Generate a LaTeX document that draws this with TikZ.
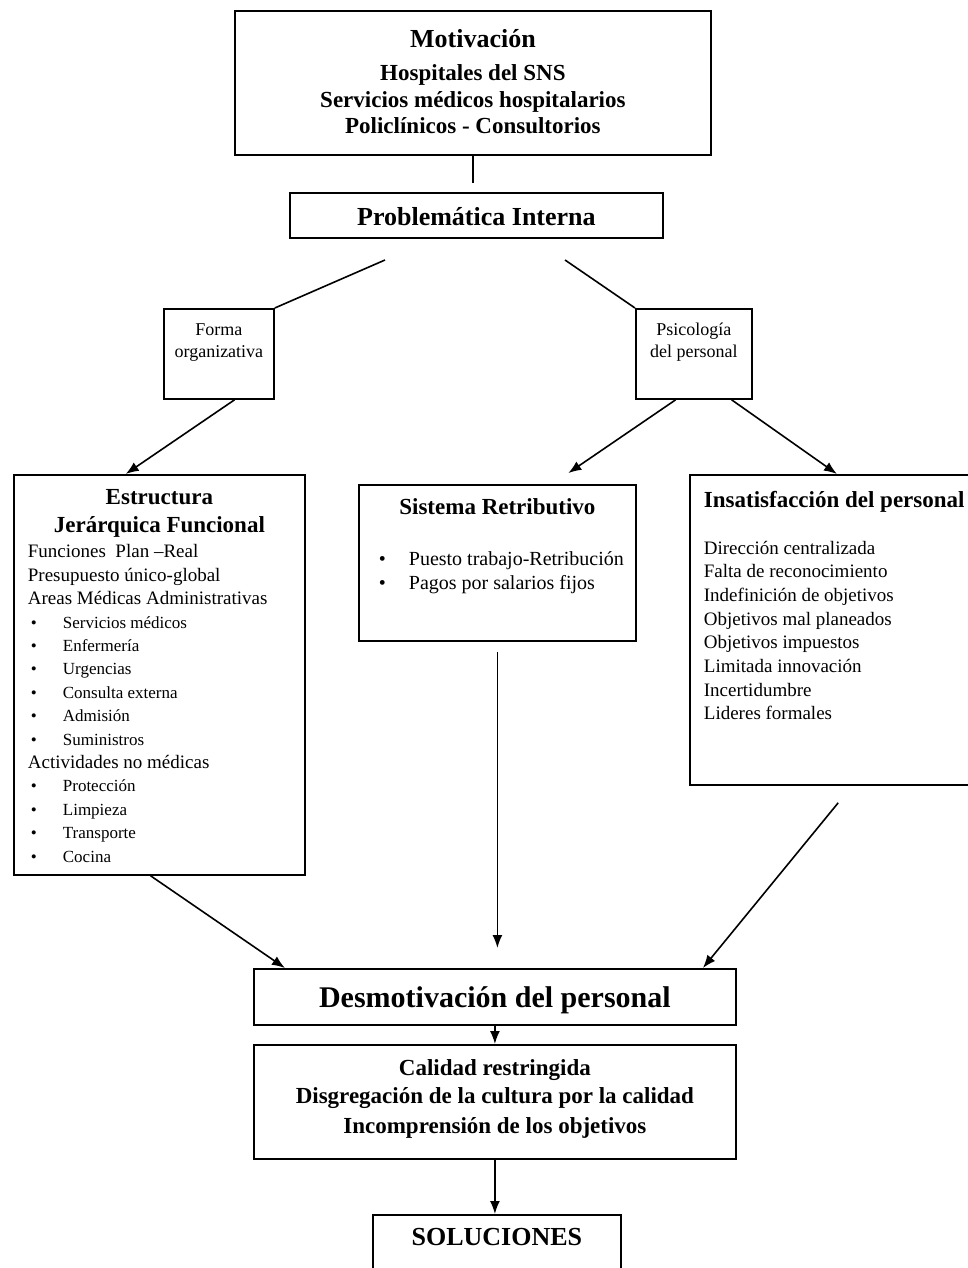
\documentclass[tikz,border=0pt]{standalone}
\usepackage{fontspec}
\setmainfont{Liberation Serif}
\usetikzlibrary{arrows.meta,calc}
\newcommand{\caja}[3]{\parbox[c][#2][t]{#1}{#3}}
\newcommand{\punto}[1]{\makebox[17.5pt][l]{\hspace{1.5pt}•}#1}
\tikzset{
  caja/.style={draw, line width=0.9pt, inner sep=0pt, anchor=north west},
  linea/.style={line width=0.8pt},
  flecha/.style={linea, -{Latex[length=6.5pt,width=5pt]}}
}
\begin{document}
\begin{tikzpicture}[x=0.5pt, y=-0.5pt]
    \useasboundingbox (0,0) rectangle (968,1268);
    % cajas
    \node[caja] (motiv) at (234,10) {\caja{238pt}{72pt}{\centering\bfseries\fontsize{11.5}{13}\selectfont
      \rule{0pt}{18.5pt}{\fontsize{13}{15}\selectfont Motivación}\\[3.5pt]
      Hospitales del SNS\\[0.5pt]
      Servicios médicos hospitalarios\\
      Policlínicos - Consultorios}};
    \node[caja] (prob) at (289,192) {\caja{186.5pt}{22.5pt}{\centering\bfseries\fontsize{13}{15}\selectfont
      \rule{0pt}{16.5pt}Problemática Interna}};
    \node[caja] (forma) at (163,308) {\caja{55pt}{45pt}{\centering\fontsize{9}{11}\selectfont
      \rule{0pt}{13.5pt}Forma\\organizativa}};
    \node[caja] (psico) at (635,308) {\caja{58pt}{45pt}{\centering\fontsize{9}{11}\selectfont
      \rule{0pt}{13.5pt}Psicología\\del personal}};
    \node[caja] (estr) at (13,474) {\caja{145.5pt}{200pt}{%
      {\centering\bfseries\fontsize{11.5}{14}\selectfont
      \rule{0pt}{15pt}Estructura\\Jerárquica Funcional\par}
      \vspace{0.8pt}
      {\raggedright\leftskip=7pt\fontsize{9.5}{11.7}\selectfont
      Funciones\ \ Plan –Real\\
      Presupuesto único-global\\
      Areas Médicas Administrativas\\
      \fontsize{8.5}{11.7}\selectfont
      \punto{Servicios médicos}\\
      \punto{Enfermería}\\
      \punto{Urgencias}\\
      \punto{Consulta externa}\\
      \punto{Admisión}\\
      \punto{Suministros}\\
      {\fontsize{9.5}{11.7}\selectfont Actividades no médicas}\\
      \punto{Protección}\\
      \punto{Limpieza}\\
      \punto{Transporte}\\
      \punto{Cocina}\par}}};
    \node[caja] (sist) at (358,484) {\caja{138.5pt}{78pt}{%
      {\centering\bfseries\fontsize{11.5}{14}\selectfont
      \rule{0pt}{15pt}Sistema Retributivo\par}
      \vspace{13.8pt}
      {\raggedright\leftskip=10pt\fontsize{10}{11.7}\selectfont
      \makebox[15pt][l]{•}Puesto trabajo-Retribución\\
      \makebox[15pt][l]{•}Pagos por salarios fijos\par}}};
    \node[caja] (insat) at (689,474) {\caja{145pt}{155pt}{%
      \raggedright\leftskip=7pt
      {\bfseries\fontsize{11.5}{14}\selectfont
      \rule{0pt}{16.5pt}Insatisfacción del personal\par}
      \vspace{11.2pt}
      {\fontsize{9.5}{11.85}\selectfont
      Dirección centralizada\\
      Falta de reconocimiento\\
      Indefinición de objetivos\\
      Objetivos mal planeados\\
      Objetivos impuestos\\
      Limitada innovación\\
      Incertidumbre\\
      Lideres formales\par}}};
    \node[caja] (desm) at (253,968) {\caja{241pt}{28pt}{\centering\bfseries\fontsize{15}{17}\selectfont
      \rule{0pt}{19.5pt}Desmotivación del personal}};
    \node[caja] (cal) at (253,1044) {\caja{241pt}{57pt}{\centering\bfseries\fontsize{11.5}{14.5}\selectfont
      \rule{0pt}{15.5pt}Calidad restringida\\[-0.5pt]
      Disgregación de la cultura por la calidad\\[0.5pt]
      Incomprensión de los objetivos}};
    \node[caja] (sol) at (372,1214) {\caja{124pt}{40pt}{\centering\bfseries\fontsize{13}{15}\selectfont
      \rule{0pt}{15.5pt}SOLUCIONES}};
    % lineas
    \coordinate (pl) at (385,260);
    \coordinate (pr) at (565,260);
    \draw[linea, shorten >=4.5pt] (motiv.south) -- (motiv.south |- prob.north);
    \draw[linea] (pl) -- (forma.north east);
    \draw[linea] (pr) -- (psico.north west);
    \draw[flecha] ($(forma.south west)!0.64!(forma.south east)$) -- ($(estr.north west)!0.385!(estr.north east)$);
    \draw[flecha, shorten >=9.7pt] ($(psico.south west)!0.345!(psico.south east)$) -- ($(sist.north west)!0.697!(sist.north east)$);
    \draw[flecha] ($(psico.south west)!0.82!(psico.south east)$) -- ($(insat.north west)!0.507!(insat.north east)$);
    \draw[flecha] ($(estr.south west)!0.47!(estr.south east)$) -- ($(desm.north west)!0.066!(desm.north east)$);
    \draw[flecha, shorten <=5pt, shorten >=10pt] (sist.south) -- (sist.south |- desm.north);
    \draw[flecha, shorten <=11pt] ($(insat.south west)!0.559!(insat.south east)$) -- ($(desm.north west)!0.93!(desm.north east)$);
    \draw[flecha] (desm.south) -- (cal.north);
    \draw[flecha] (cal.south) -- (cal.south |- sol.north);
\end{tikzpicture}
\end{document}
